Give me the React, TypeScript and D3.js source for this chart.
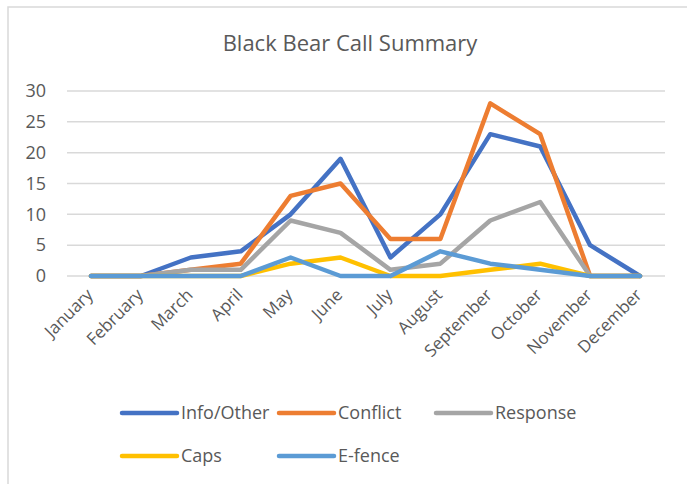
import React from "react";
import * as d3 from "d3";

const months = ["January","February","March","April","May","June","July","August","September","October","November","December"];
const infoOther = [0,0,3,4,10,19,3,10,23,21,5,0];
const conflict = [0,0,1,2,13,15,6,6,28,23,0,0];
const response = [0,0,1,1,9,7,1,2,9,12,0,0];
const caps = [0,0,0,0,2,3,0,0,1,2,0,0];
const efence = [0,0,0,0,3,0,0,4,2,1,0,0];
const yTicks = [0,5,10,15,20,25,30];

const seriesNames = ["Info/Other","Conflict","Response","Caps","E-fence"];
const seriesData = [infoOther, conflict, response, caps, efence];
const colors = ["#4472C4","#ED7D31","#A5A5A5","#FFC000","#5B9BD5"];

export default function App() {
  const W = 687, H = 484;
  const x = d3.scalePoint<string>().domain(months).range([91, 640]);
  const y = d3.scaleLinear().domain([0, 30]).range([276, 91]);
  const line = d3.line<number>().x((_, i) => x(months[i]) as number).y(d => y(d));
  const font = "'Open Sans', sans-serif";
  const txt = "#595959";
  const legendPos = [
    { lx: 122, ly: 413 },
    { lx: 279, ly: 413 },
    { lx: 436, ly: 413 },
    { lx: 122, ly: 456 },
    { lx: 279, ly: 456 },
  ];
  return (
    <svg width={W} height={H} style={{ position: "absolute", left: 0, top: 0, background: "#fff" }} fontFamily={font}>
      <rect x={8} y={7} width={W + 10} height={H + 10} fill="#fff" stroke="#D9D9D9" strokeWidth={1.5} />
      <text x={350} y={51} textAnchor="middle" fontSize={22} fill={txt}>Black Bear Call Summary</text>
      {yTicks.map(t => (
        <g key={t}>
          <line x1={67} x2={665} y1={y(t)} y2={y(t)} stroke="#D9D9D9" strokeWidth={1.5} />
          <text x={46} y={y(t)} dy="0.35em" textAnchor="end" fontSize={18} fill={txt}>{t}</text>
        </g>
      ))}
      {months.map(m => (
        <text key={m} transform={`translate(${(x(m) as number) + 3},${296}) rotate(-45)`} textAnchor="end" fontSize={17} fill={txt}>{m}</text>
      ))}
      {seriesData.map((d, i) => (
        <path key={i} d={line(d) || ""} fill="none" stroke={colors[i]} strokeWidth={4.5} strokeLinejoin="round" strokeLinecap="round" />
      ))}
      {seriesNames.map((n, i) => (
        <g key={n}>
          <line x1={legendPos[i].lx} x2={legendPos[i].lx + 55} y1={legendPos[i].ly} y2={legendPos[i].ly} stroke={colors[i]} strokeWidth={4.5} strokeLinecap="round" />
          <text x={legendPos[i].lx + 59} y={legendPos[i].ly} dy="0.35em" fontSize={18} fill={txt}>{n}</text>
        </g>
      ))}
    </svg>
  );
}
